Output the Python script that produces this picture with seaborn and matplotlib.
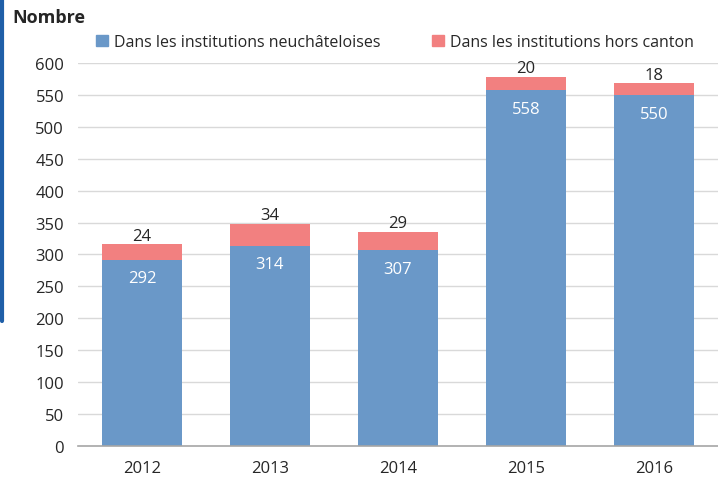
import matplotlib
matplotlib.use("Agg")
import matplotlib.pyplot as plt
import matplotlib.patches as mpatches
import seaborn as sns
import pandas as pd

years = ["2012", "2013", "2014", "2015", "2016"]
inside_canton = [292, 314, 307, 558, 550]
outside_canton = [24, 34, 29, 20, 18]
yticks = [0, 50, 100, 150, 200, 250, 300, 350, 400, 450, 500, 550, 600]

label_in = "Dans les institutions neuchâteloises"
label_out = "Dans les institutions hors canton"

blue = "#6a98c8"
red = "#f28080"
text_col = "#262626"

sns.set_theme(style="white")
plt.rcParams["font.family"] = ["Open Sans", "DejaVu Sans"]

df = pd.DataFrame({
    "year": years,
    "inside": inside_canton,
    "outside": outside_canton,
})
df["total"] = df["inside"] + df["outside"]

fig = plt.figure(figsize=(7.18, 4.81), dpi=100)
ax = fig.add_axes([0.1086, 0.0707, 0.8914, 0.7963])

sns.barplot(data=df, x="year", y="total", color=red, width=0.625,
            saturation=1, ax=ax, zorder=3, linewidth=0)
sns.barplot(data=df, x="year", y="inside", color=blue, width=0.625,
            saturation=1, ax=ax, zorder=4, linewidth=0)

ax.set_ylim(0, 600)
ax.set_yticks(yticks)
ax.set_yticklabels([str(t) for t in yticks], fontsize=12, color=text_col)
ax.set_xlim(-0.5, len(years) - 0.5)
ax.tick_params(axis="x", labelsize=12, colors=text_col, length=0, pad=10)
ax.tick_params(axis="y", length=0, pad=10)
ax.set_xlabel("")
ax.set_ylabel("")

for t in yticks[1:]:
    ax.axhline(t, color="#d9d9d9", lw=1, zorder=1)
for s in ["top", "right", "left"]:
    ax.spines[s].set_visible(False)
ax.spines["bottom"].set_color("#a6a6a6")
ax.spines["bottom"].set_linewidth(1.2)
ax.spines["bottom"].set_zorder(5)

for i, (a, b) in enumerate(zip(inside_canton, outside_canton)):
    ax.annotate(str(a), (i, a), xytext=(0, -13.5), textcoords="offset points",
                ha="center", va="center", color="white", fontsize=12, zorder=6)
    ax.annotate(str(b), (i, a + b), xytext=(0, 0.5), textcoords="offset points",
                ha="center", va="bottom", color=text_col, fontsize=12, zorder=6)

fig.text(12 / 718, 1 - 18 / 481, "Nombre", fontsize=13, fontweight="bold",
         ha="left", va="center", color=text_col)

handles = [mpatches.Patch(color=blue, label=label_in),
           mpatches.Patch(color=red, label=label_out)]
fig.legend(handles=handles, loc="center", bbox_to_anchor=(395 / 718, 1 - 43 / 481),
           ncol=2, frameon=False, fontsize=11.5, handlelength=0.75,
           handleheight=0.75, handletextpad=0.4, columnspacing=3.2,
           labelcolor=text_col)

# left accent bar
fig.add_artist(plt.Line2D([1.5 / 718, 1.5 / 718], [1, 1 - 322 / 481],
                          transform=fig.transFigure, color="#1f5fa8", lw=3))

fig.savefig("out.png", dpi=100)
